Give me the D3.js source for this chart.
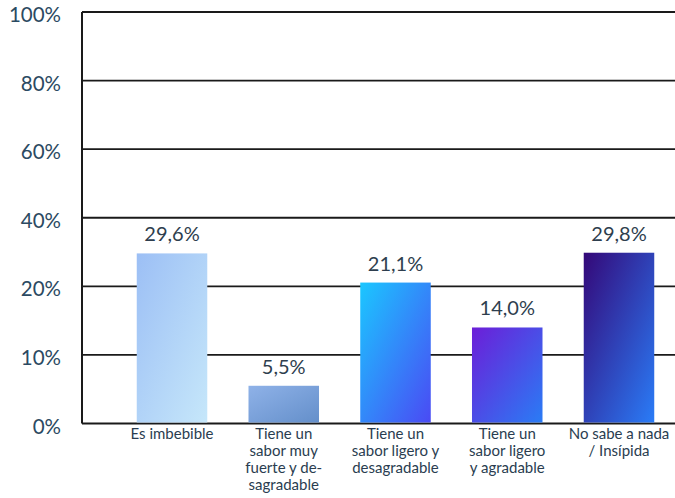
<!DOCTYPE html>
<html>
<head>
<meta charset="utf-8">
<script src="https://cdn.jsdelivr.net/npm/d3@7"></script>
<style>
  html, body { margin: 0; padding: 0; background: #fff; }
  svg { display: block; }
</style>
</head>
<body>
<svg id="chart" width="675" height="498"></svg>
<script>
// ---- data ----
const categories = [
  "Es imbebible",
  "Tiene un sabor muy fuerte y desagradable",
  "Tiene un sabor ligero y desagradable",
  "Tiene un sabor ligero y agradable",
  "No sabe a nada / Insípida"
];
const categoryLines = [
  ["Es imbebible"],
  ["Tiene un", "sabor muy", "fuerte y de-", "sagradable"],
  ["Tiene un", "sabor ligero y", "desagradable"],
  ["Tiene un", "sabor ligero", "y agradable"],
  ["No sabe a nada", "/ Insípida"]
];
const values = [29.6, 5.5, 21.1, 14.0, 29.8];
const valueLabels = ["29,6%", "5,5%", "21,1%", "14,0%", "29,8%"];
const tickValues = [0, 10, 20, 40, 60, 80, 100];
const tickLabels = ["0%", "10%", "20%", "40%", "60%", "80%", "100%"];
const gradientStops = [
  ["#9cbff5", "#c6e7fa"],
  ["#8fb2e8", "#648fca"],
  ["#1bc7ff", "#4a4af4"],
  ["#6c1ed8", "#2a7cf5"],
  ["#340878", "#2a7cf7"]
];

// ---- layout ----
const svg = d3.select("#chart");
const plotLeft = 82, plotTop = 12, plotBottom = 423.5, plotRight = 709;

const x = d3.scaleBand()
  .domain(categories)
  .range([plotLeft, plotRight])
  .paddingInner(0.369)
  .paddingOuter(0.49);

// piecewise scale matching the evenly spaced but non-uniform ticks of the original
const y = d3.scaleLinear()
  .domain(tickValues)
  .range(tickValues.map((d, i) => plotBottom - i * (plotBottom - plotTop) / (tickValues.length - 1)));

// gradients
const defs = svg.append("defs");
gradientStops.forEach((c, i) => {
  const g = defs.append("linearGradient")
    .attr("id", "g" + i)
    .attr("x1", 0).attr("y1", 0).attr("x2", 1).attr("y2", 1);
  g.append("stop").attr("offset", "0%").attr("stop-color", c[0]);
  g.append("stop").attr("offset", "100%").attr("stop-color", c[1]);
});

// gridlines
svg.append("g").selectAll("line")
  .data(tickValues)
  .join("line")
  .attr("x1", plotLeft).attr("x2", 675)
  .attr("y1", d => y(d)).attr("y2", d => y(d))
  .attr("stroke", "#1a1a1a")
  .attr("stroke-width", d => d === 0 ? 2.2 : 1.8);

// left axis line
svg.append("line")
  .attr("x1", plotLeft).attr("x2", plotLeft)
  .attr("y1", y(100)).attr("y2", y(0))
  .attr("stroke", "#1a1a1a").attr("stroke-width", 2);

// tick labels
svg.append("g").selectAll("text")
  .data(tickValues)
  .join("text")
  .attr("x", 61)
  .attr("y", d => y(d) + 10)
  .attr("text-anchor", "end")
  .attr("font-family", "Lato, 'Open Sans', sans-serif")
  .attr("font-size", 20.5)
  .attr("fill", "#2b4a62")
  .text((d, i) => tickLabels[i]);

// bars
svg.append("g").selectAll("rect")
  .data(values)
  .join("rect")
  .attr("x", (d, i) => x(categories[i]))
  .attr("width", x.bandwidth())
  .attr("y", d => y(d))
  .attr("height", d => y(0) - y(d) - 1)
  .attr("fill", (d, i) => `url(#g${i})`);

// value labels
svg.append("g").selectAll("text")
  .data(values)
  .join("text")
  .attr("x", (d, i) => x(categories[i]) + x.bandwidth() / 2)
  .attr("y", d => y(d) - 12)
  .attr("text-anchor", "middle")
  .attr("font-family", "Lato, 'Open Sans', sans-serif")
  .attr("font-size", 20)
  .attr("fill", "#2e3e4e")
  .text((d, i) => valueLabels[i]);

// category labels
const cat = svg.append("g").selectAll("text")
  .data(categories)
  .join("text")
  .attr("text-anchor", "middle")
  .attr("font-family", "Lato, 'Open Sans', sans-serif")
  .attr("font-size", 15)
  .attr("fill", "#2a3d50");
cat.each(function(d, i) {
  const cx = x(d) + x.bandwidth() / 2;
  d3.select(this).selectAll("tspan")
    .data(categoryLines[i])
    .join("tspan")
    .attr("x", cx)
    .attr("y", (l, j) => 439 + j * 17)
    .text(l => l);
});
</script>
</body>
</html>
